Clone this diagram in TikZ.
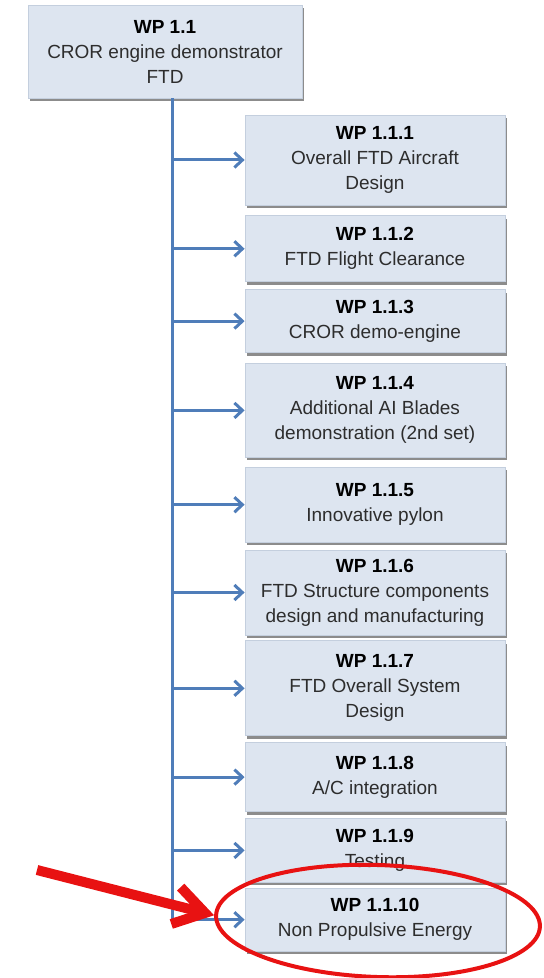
\documentclass[tikz,border=0pt]{standalone}
\usepackage{fontspec}
\setmainfont{Liberation Sans}
\usepackage{xcolor}
\usepackage{tikz}
\usetikzlibrary{arrows.meta,positioning,shadows,shapes.geometric}

\definecolor{wpfill}{RGB}{221,229,240}
\definecolor{wpedge}{RGB}{196,207,222}
\definecolor{wpshade}{RGB}{140,140,140}
\definecolor{wptext}{RGB}{45,45,45}
\definecolor{wpline}{RGB}{79,125,185}
\definecolor{hired}{RGB}{232,18,18}

\newcommand{\wpno}[1]{{\color{black}\bfseries #1}}

\begin{document}
\begin{tikzpicture}[x=0.5pt, y=-0.5pt, >=Latex, node distance=3pt]

  % ===== Styles =====
  \tikzset{
    wpbox/.style={draw=wpedge, fill=wpfill, line width=0.4pt, align=center, text=wptext,
      minimum width=130pt, inner sep=2pt, font=\fontsize{9.5}{12.5}\selectfont,
      drop shadow={shadow xshift=1.2pt, shadow yshift=-1.5pt, fill=wpshade, opacity=1}},
    link/.style={-{Straight Barb[length=4pt, width=7.5pt]}, line width=1.5pt, draw=wpline},
    trunkline/.style={line width=1.5pt, draw=wpline},
    ring/.style={ellipse, draw=hired, line width=2pt, inner sep=0pt},
    pointer/.style={-{Straight Barb[length=15pt, width=19pt]}, line width=5pt, draw=hired}
  }

  \useasboundingbox (0,0) rectangle (544,978);

  % ===== Parent work package =====
  \node[wpbox, minimum width=137pt, minimum height=46.5pt] (top) at (165,51.5)
    {\wpno{WP 1.1}\\CROR engine demonstrator\\FTD};

  % ===== Sub work packages (stacked) =====
  \node[wpbox, minimum height=45pt] (b1) at (375,160)
    {\wpno{WP 1.1.1}\\Overall FTD Aircraft\\Design};
  \node[wpbox, minimum height=33pt, below=5pt of b1] (b2)
    {\wpno{WP 1.1.2}\\FTD Flight Clearance};
  \node[wpbox, minimum height=31.5pt, below=3.5pt of b2] (b3)
    {\wpno{WP 1.1.3}\\CROR demo-engine};
  \node[wpbox, minimum height=47pt, below=5pt of b3] (b4)
    {\wpno{WP 1.1.4}\\Additional AI Blades\\demonstration (2nd set)};
  \node[wpbox, minimum height=37.5pt, below=4.5pt of b4] (b5)
    {\wpno{WP 1.1.5}\\Innovative pylon};
  \node[wpbox, minimum height=42.5pt, below=3.5pt of b5] (b6)
    {\wpno{WP 1.1.6}\\FTD Structure components\\design and manufacturing};
  \node[wpbox, minimum height=47.5pt, below=2.5pt of b6] (b7)
    {\wpno{WP 1.1.7}\\FTD Overall System\\Design};
  \node[wpbox, minimum height=34.5pt, below=3pt of b7] (b8)
    {\wpno{WP 1.1.8}\\A/C integration};
  \node[wpbox, minimum height=32pt, below=3pt of b8] (b9)
    {\wpno{WP 1.1.9}\\Testing};
  \node[wpbox, minimum height=31.5pt, below=2.5pt of b9] (b10)
    {\wpno{WP 1.1.10}\\Non Propulsive Energy};

  % ===== Connectors =====
  \coordinate (trunk) at (172,0);
  \draw[trunkline] (top.south -| trunk) -- (b10.west -| trunk);
  \foreach \i in {1,...,10}
    \draw[link] (b\i.west -| trunk) -- (b\i.west);

  % ===== Highlight =====
  \node[ring, rotate=-2, minimum width=162pt, minimum height=56pt] (hl) at (378,921) {};
  \coordinate (tail) at (37,870);
  \draw[pointer] (tail) -- (hl.west);

\end{tikzpicture}
\end{document}
